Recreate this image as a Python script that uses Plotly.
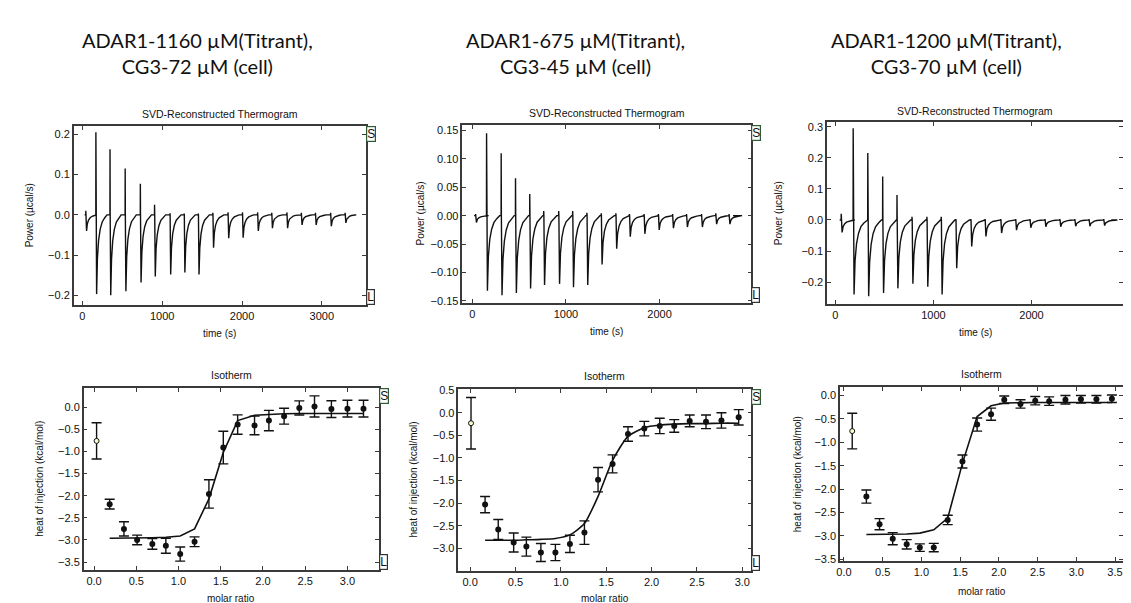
import plotly.graph_objects as go

W, H = 1131, 603

# ---------------- text ----------------
COLUMN_TITLES = [
    "ADAR1-1160 µM(Titrant),<br>CG3-72 µM (cell)",
    "ADAR1-675 µM(Titrant),<br>CG3-45 µM (cell)",
    "ADAR1-1200 µM(Titrant),<br>CG3-70 µM (cell)",
]
THERMO_TITLE = "SVD-Reconstructed Thermogram"
ISO_TITLE = "Isotherm"

# ---------------- thermogram data (per injection) ----------------
T1_TIME = [42, 168, 345, 535, 725, 903, 1096, 1274, 1451, 1633, 1823, 2004, 2194, 2371, 2561, 2742, 2919, 3109, 3291]
T1_SPIKE = [0.010, 0.205, 0.163, 0.115, 0.077, 0.025, 0.004, 0.003, 0.003, 0.005, 0.006, 0.006, 0.006, 0.005, 0.006, 0.005, 0.005, 0.005, 0.005]
T1_DIP = [-0.040, -0.197, -0.200, -0.190, -0.168, -0.153, -0.148, -0.143, -0.148, -0.082, -0.058, -0.057, -0.040, -0.033, -0.033, -0.025, -0.025, -0.028, -0.020]
T1_END = 3405

T2_TIME = [35, 152, 308, 461, 613, 762, 922, 1071, 1223, 1376, 1532, 1677, 1833, 1986, 2138, 2287, 2447, 2599, 2741]
T2_SPIKE = [0.003, 0.145, 0.110, 0.066, 0.038, 0.008, 0.008, 0.008, 0.005, 0.004, 0.004, 0.003, 0.003, 0.003, 0.003, 0.003, 0.003, 0.004, 0.003]
T2_DIP = [-0.012, -0.132, -0.140, -0.136, -0.128, -0.122, -0.120, -0.126, -0.122, -0.086, -0.058, -0.037, -0.032, -0.025, -0.022, -0.020, -0.020, -0.015, -0.015]
T2_END = 2784

T3_TIME = [58, 180, 329, 481, 627, 780, 932, 1078, 1227, 1380, 1525, 1685, 1837, 1983, 2136, 2288, 2441, 2586, 2736]
T3_SPIKE = [0.020, 0.295, 0.215, 0.140, 0.080, 0.010, 0.010, 0.010, 0.003, 0.003, 0.003, 0.003, 0.003, 0.003, 0.003, 0.003, 0.003, 0.003, 0.003]
T3_DIP = [-0.040, -0.240, -0.245, -0.235, -0.220, -0.205, -0.215, -0.240, -0.155, -0.085, -0.053, -0.042, -0.033, -0.025, -0.022, -0.022, -0.020, -0.020, -0.018]
T3_END = 2813

# recovery profile of a peak after its minimum (offset s, fraction of minimum)
REC_OFFSET = [0, 10, 25, 45, 70, 100, 130]
REC_FRAC = [1.0, 0.55, 0.32, 0.18, 0.09, 0.04, 0.0]

# ---------------- isotherm data ----------------
I1_X = [0.03, 0.185, 0.354, 0.51, 0.69, 0.85, 1.02, 1.19, 1.36, 1.53, 1.70, 1.90, 2.07, 2.25, 2.43, 2.61, 2.81, 3.00, 3.19]
I1_Y = [-0.76, -2.19, -2.75, -3.00, -3.09, -3.13, -3.32, -3.04, -1.96, -0.91, -0.39, -0.41, -0.30, -0.20, -0.015, 0.02, -0.04, -0.03, -0.03]
I1_ERR = [0.41, 0.11, 0.16, 0.11, 0.12, 0.17, 0.16, 0.11, 0.32, 0.37, 0.22, 0.21, 0.23, 0.18, 0.16, 0.24, 0.19, 0.19, 0.19]
I1_FIT = [-2.96, -2.96, -2.96, -2.95, -2.94, -2.91, -2.75, -2.07, -1.02, -0.30, -0.18, -0.155, -0.145, -0.14, -0.14, -0.14, -0.14, -0.14]

I2_X = [0.01, 0.165, 0.31, 0.48, 0.62, 0.78, 0.94, 1.10, 1.26, 1.41, 1.57, 1.74, 1.92, 2.09, 2.25, 2.42, 2.60, 2.77, 2.96]
I2_Y = [-0.23, -2.03, -2.58, -2.87, -2.96, -3.09, -3.09, -2.90, -2.65, -1.48, -1.13, -0.47, -0.35, -0.29, -0.29, -0.18, -0.20, -0.17, -0.10]
I2_ERR = [0.57, 0.18, 0.22, 0.21, 0.21, 0.20, 0.18, 0.19, 0.26, 0.27, 0.20, 0.16, 0.16, 0.17, 0.14, 0.13, 0.15, 0.17, 0.17]
I2_FIT = [-2.82, -2.82, -2.82, -2.81, -2.80, -2.78, -2.70, -2.45, -1.85, -1.05, -0.52, -0.33, -0.27, -0.25, -0.24, -0.24, -0.23, -0.23]

I3_X = [0.107, 0.29, 0.46, 0.63, 0.81, 0.98, 1.16, 1.34, 1.53, 1.72, 1.90, 2.07, 2.28, 2.47, 2.65, 2.86, 3.06, 3.26, 3.46]
I3_Y = [-0.76, -2.16, -2.75, -3.06, -3.18, -3.25, -3.25, -2.66, -1.41, -0.62, -0.40, -0.09, -0.18, -0.11, -0.12, -0.09, -0.08, -0.08, -0.07]
I3_ERR = [0.38, 0.14, 0.12, 0.13, 0.10, 0.08, 0.09, 0.10, 0.14, 0.14, 0.13, 0.08, 0.09, 0.09, 0.09, 0.09, 0.08, 0.08, 0.08]
I3_FIT = [-2.97, -2.97, -2.96, -2.96, -2.94, -2.87, -2.62, -1.45, -0.45, -0.22, -0.16, -0.15, -0.15, -0.15, -0.15, -0.15, -0.15, -0.15]

# ---------------- layout geometry (pixels) ----------------
# (left, right, top, bottom)
BOX = {
    "t1": (62, 355, 115, 296),
    "t2": (452, 742, 114, 294),
    "t3": (818, 1115, 111, 295),
    "i1": (72, 368, 381, 565),
    "i2": (448, 742, 382, 566),
    "i3": (831, 1115, 380, 556),
}
RANGES = {
    "t1": ([-108, 3550], [-0.223, 0.22]),
    "t2": ([-105, 2980], [-0.153, 0.159]),
    "t3": ([-85, 2934], [-0.269, 0.314]),
    "i1": ([-0.122, 3.37], [-3.67, 0.43]),
    "i2": ([-0.129, 3.10], [-3.49, 0.52]),
    "i3": ([-0.05, 3.604], [-3.53, 0.175]),
}
YTICKS = {
    "t1": ([-0.2, -0.1, 0.0, 0.1, 0.2], ".1f"),
    "t2": ([-0.15, -0.10, -0.05, 0.0, 0.05, 0.10, 0.15], ".2f"),
    "t3": ([-0.2, -0.1, 0.0, 0.1, 0.2, 0.3], ".1f"),
    "i1": ([-3.5, -3.0, -2.5, -2.0, -1.5, -1.0, -0.5, 0.0], ".1f"),
    "i2": ([-3.0, -2.5, -2.0, -1.5, -1.0, -0.5, 0.0, 0.5], ".1f"),
    "i3": ([-3.5, -3.0, -2.5, -2.0, -1.5, -1.0, -0.5, 0.0], ".1f"),
}
XTICKS = {
    "t1": ([0, 1000, 2000, 3000], "d"),
    "t2": ([0, 1000, 2000], "d"),
    "t3": ([0, 1000, 2000], "d"),
    "i1": ([0, 0.5, 1.0, 1.5, 2.0, 2.5, 3.0], ".1f"),
    "i2": ([0, 0.5, 1.0, 1.5, 2.0, 2.5, 3.0], ".1f"),
    "i3": ([0, 0.5, 1.0, 1.5, 2.0, 2.5, 3.0, 3.5], ".1f"),
}
ORDER = ["t1", "t2", "t3", "i1", "i2", "i3"]

INK = "#111111"
AXIS_FONT = dict(family="Liberation Sans, Arial, sans-serif", size=11, color=INK)


def thermogram(times, spikes, dips, t_end):
    t = [times[0] - 15]
    p = [0.0]
    for ti, s, d in zip(times, spikes, dips):
        t += [ti, ti + 1, ti + 3]
        p += [0.0, s, 0.0]
        for off, fr in zip(REC_OFFSET, REC_FRAC):
            t.append(ti + 10 + off)
            p.append(d * fr)
    t.append(t_end)
    p.append(0.0)
    return t, p


fig = go.Figure()

axis_ids = {}
for n, key in enumerate(ORDER, start=1):
    axis_ids[key] = ("x" if n == 1 else f"x{n}", "y" if n == 1 else f"y{n}", n)

# thermograms
for key, (tt, ss, dd, te) in zip(
    ["t1", "t2", "t3"],
    [(T1_TIME, T1_SPIKE, T1_DIP, T1_END), (T2_TIME, T2_SPIKE, T2_DIP, T2_END), (T3_TIME, T3_SPIKE, T3_DIP, T3_END)],
):
    xa, ya, _ = axis_ids[key]
    t, p = thermogram(tt, ss, dd, te)
    fig.add_trace(go.Scatter(x=t, y=p, mode="lines", line=dict(color=INK, width=1.4),
                             xaxis=xa, yaxis=ya, showlegend=False, hoverinfo="skip"))

# isotherms
for key, (xs, ys, es, fit, smooth) in zip(
    ["i1", "i2", "i3"],
    [(I1_X, I1_Y, I1_ERR, I1_FIT, False), (I2_X, I2_Y, I2_ERR, I2_FIT, True), (I3_X, I3_Y, I3_ERR, I3_FIT, False)],
):
    xa, ya, _ = axis_ids[key]
    fig.add_trace(go.Scatter(x=xs[1:], y=fit, mode="lines",
                             line=dict(color=INK, width=1.6, shape="spline" if smooth else "linear", smoothing=0.6),
                             xaxis=xa, yaxis=ya, showlegend=False, hoverinfo="skip"))
    fig.add_trace(go.Scatter(x=xs[1:], y=ys[1:], mode="markers",
                             marker=dict(color=INK, size=6),
                             error_y=dict(type="data", array=es[1:], color=INK, thickness=1.4, width=5),
                             xaxis=xa, yaxis=ya, showlegend=False))
    fig.add_trace(go.Scatter(x=xs[:1], y=ys[:1], mode="markers",
                             marker=dict(color="#fbfbd0", size=5, line=dict(color=INK, width=1)),
                             error_y=dict(type="data", array=es[:1], color=INK, thickness=1.4, width=5),
                             xaxis=xa, yaxis=ya, showlegend=False))

layout = dict(
    width=W, height=H, margin=dict(l=0, r=0, t=0, b=0),
    paper_bgcolor="white", plot_bgcolor="white", showlegend=False,
)

for key in ORDER:
    xa, ya, n = axis_ids[key]
    l, r, t, b = BOX[key]
    xr, yr = RANGES[key]
    xt, xf = XTICKS[key]
    yt, yf = YTICKS[key]
    common = dict(showline=True, linecolor="#3a3a3a", linewidth=1.5, mirror="ticks",
                  ticks="inside", ticklen=4, tickwidth=1.2, tickcolor="#3a3a3a",
                  showgrid=False, zeroline=False, tickfont=AXIS_FONT, fixedrange=True)
    xname = "xaxis" if n == 1 else f"xaxis{n}"
    yname = "yaxis" if n == 1 else f"yaxis{n}"
    layout[xname] = dict(domain=[l / W, r / W], range=xr, anchor=ya, tickvals=xt, tickformat=xf, **common)
    layout[yname] = dict(domain=[1 - b / H, 1 - t / H], range=yr, anchor=xa, tickvals=yt, tickformat=yf, **common)

fig.update_layout(**layout)


def px_ann(x, y, text, size, xanchor="center", yanchor="middle", angle=0, family="Liberation Sans, Arial, sans-serif", **kw):
    fig.add_annotation(x=x / W, y=1 - y / H, xref="paper", yref="paper", text=text, showarrow=False,
                       xanchor=xanchor, yanchor=yanchor, textangle=angle,
                       font=dict(family=family, size=size, color=INK), **kw)


# column titles
for cx, txt in zip([186, 566, 938], COLUMN_TITLES):
    px_ann(cx, 41, txt, 20, family="Lato, Carlito, sans-serif")

# panel titles and axis titles
for key in ["t1", "t2", "t3"]:
    l, r, t, b = BOX[key]
    px_ann((l + r) / 2, t - 12, THERMO_TITLE, 10.5)
    px_ann((l + r) / 2, b + 29, "time (s)", 10)
for key in ["i1", "i2", "i3"]:
    l, r, t, b = BOX[key]
    px_ann((l + r) / 2, t - 14, ISO_TITLE, 10.5)
    px_ann((l + r) / 2, min(b + 31, 594), "molar ratio", 10)

for key, xpos in zip(["t1", "t2", "t3"], [17, 410, 770]):
    l, r, t, b = BOX[key]
    px_ann(xpos, (t + b) / 2, "Power (µcal/s)", 10, angle=-90)
for key, xpos in zip(["i1", "i2", "i3"], [28, 403, 788]):
    l, r, t, b = BOX[key]
    px_ann(xpos, (t + b) / 2, "heat of injection (kcal/mol)", 10, angle=-90)

# S / L markers at the right edge of each panel
for key in ORDER:
    l, r, t, b = BOX[key]
    px_ann(r, t, "S", 12, xanchor="left", yanchor="top",
           bordercolor="#2f5a34", borderwidth=1.2, borderpad=0, bgcolor="white")
    px_ann(r, b, "L", 12, xanchor="left", yanchor="bottom",
           bordercolor="#333333", borderwidth=1.2, borderpad=0, bgcolor="white")

fig.write_html("out.html")
